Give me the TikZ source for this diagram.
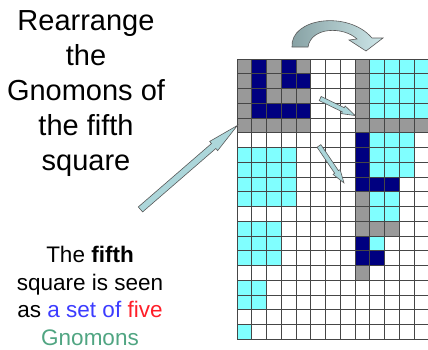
\documentclass[tikz,border=0pt]{standalone}
\usepackage{fontspec}
\setmainfont{Liberation Sans}
\usetikzlibrary{shapes.arrows,calc}
\definecolor{gnomonblue}{RGB}{0,0,128}
\definecolor{gnomongray}{RGB}{153,153,153}
\definecolor{sqcyan}{RGB}{128,255,255}
\definecolor{arrowfill}{RGB}{172,214,218}
\definecolor{setblue}{RGB}{60,60,255}
\definecolor{fivered}{RGB}{255,30,40}
\definecolor{gnomgreen}{RGB}{80,165,130}
\tikzset{
  gridline/.style={draw=gray!55!black,line width=0.9pt},
  blockarrow/.style={single arrow,draw=black!65,fill=arrowfill,line width=0.6pt,inner xsep=0pt},
  titletext/.style={font=\fontsize{29}{35}\selectfont,align=center,inner sep=0pt},
  captext/.style={font=\fontsize{22.5}{27.5}\selectfont,align=center,inner sep=0pt},
}
\begin{document}
\begin{tikzpicture}[x=1pt,y=-1pt]
  \useasboundingbox (0,0) rectangle (428,349);
  \node[titletext,anchor=north] (title) at (86,10)
    {Rearrange\\the\\Gnomons of\\the fifth\\square};
  \node[captext,anchor=north] (caption) at (90,246)
    {The \textbf{fifth}\\square is seen\\as \textcolor{setblue}{a set of} \textcolor{fivered}{five}\\\textcolor{gnomgreen}{Gnomons}};
  % the grid of unit squares
  \begin{scope}[shift={(237,59)},x=14.75pt,y=-14.75pt]
    \foreach \k/\c in {0/gnomongray,1/gnomonblue,2/gnomongray,3/gnomonblue,4/gnomongray}
      \fill[\c] (\k,0) rectangle (5,5-\k);
    \foreach \n/\r in {4/6,3/11,2/15,1/18}
      \fill[sqcyan] (0,\r) rectangle (\n,\r+\n);
    \fill[gnomongray] (8,0) rectangle (13,5);
    \fill[sqcyan] (9,0) rectangle (13,4);
    \fill[gnomonblue] (8,5) rectangle (11,9);
    \fill[sqcyan] (9,5) rectangle (12,8);
    \fill[gnomongray] (8,9) rectangle (11,12);
    \fill[sqcyan] (9,9) rectangle (11,11);
    \fill[gnomonblue] (8,12) rectangle (10,14);
    \fill[sqcyan] (9,12) rectangle (10,13);
    \fill[gnomongray] (8,14) rectangle (9,15);
    \foreach \i in {0,...,13}
      \draw[gridline] (\i,0) -- (\i,19);
    \foreach \j in {0,...,19}
      \draw[gridline] (0,\j) -- (13,\j);
  \end{scope}
  % arrows
  \coordinate (bigtail) at (134,215);
  \coordinate (bighead) at (231,131);
  \coordinate (onetail) at (317,97);
  \coordinate (onehead) at (352,114);
  \coordinate (twotail) at (317,143);
  \coordinate (twohead) at (342,180);
  \foreach \from/\to/\shaft/\hd/\tip in {bigtail/bighead/3pt/2.8pt/22,onetail/onehead/2pt/2pt/36,twotail/twohead/2pt/2pt/36}
    \path let \p1=($(\to)-(\from)$) in
      node[blockarrow,inner ysep=\shaft,single arrow head extend=\hd,single arrow tip angle=\tip,
           minimum height={veclen(\x1,\y1)},rotate={atan2(\y1,\x1)}] (a\from) at ($(\from)!.5!(\to)$) {};
  \path[draw=black!65,line width=0.6pt,left color=arrowfill!70!black!90,right color=arrowfill!60!white]
    (292,47) .. controls (290,18) and (348,10) .. (372,38) -- (383,38) -- (366,51) -- (349,40)
    -- (357,39) .. controls (343,26) and (311,27) .. (308,47) -- cycle;
\end{tikzpicture}
\end{document}
